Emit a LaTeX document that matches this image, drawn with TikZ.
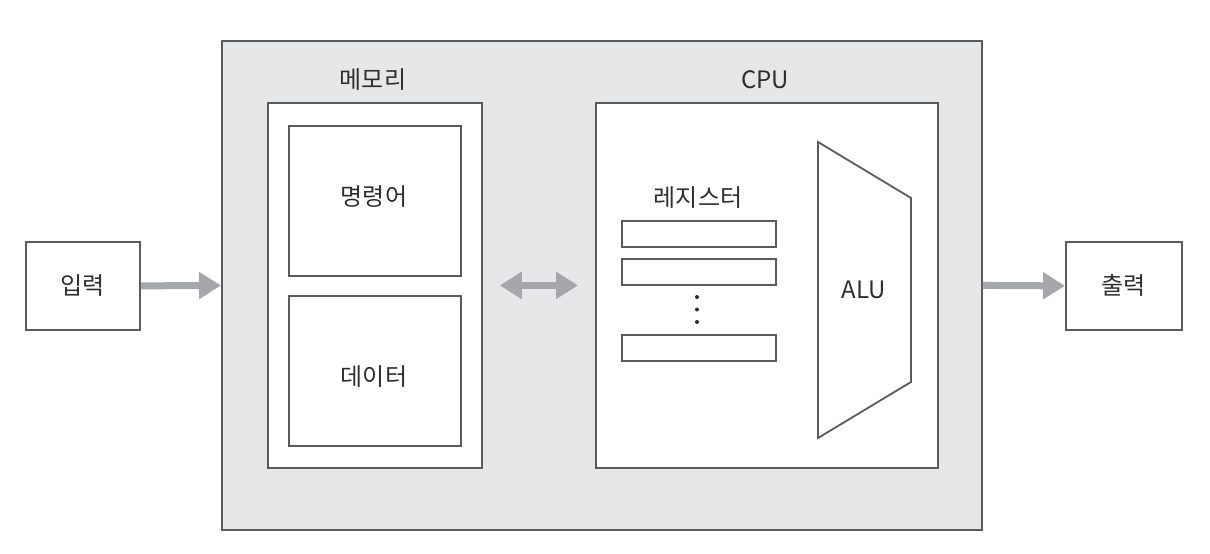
\documentclass[tikz,border=0pt]{standalone}
\usepackage{fontspec}
\setmainfont{Noto Sans CJK KR}
\usetikzlibrary{arrows.meta}
\definecolor{bgray}{HTML}{E6E7E8}
\definecolor{lgray}{HTML}{5A5B5D}
\definecolor{agray}{HTML}{A5A7AA}
\definecolor{tgray}{HTML}{2E2E2E}
\tikzset{
  boxed/.style={draw=lgray, line width=1.8pt, fill=white, inner sep=0pt, text=tgray, font=\fontsize{24}{28}\selectfont},
  lbl/.style={text=tgray, font=\fontsize{24}{28}\selectfont, inner sep=0pt},
  regbox/.style={draw=lgray, line width=1.5pt, fill=white, minimum width=154pt, minimum height=26pt, anchor=north west, inner sep=0pt},
  dotc/.style={fill=tgray, circle, inner sep=0pt, minimum size=4pt},
  flow/.style={draw=agray, line width=7pt, -{Triangle[length=22pt,width=26pt]}},
  flow2/.style={draw=agray, line width=7pt, {Triangle[length=22pt,width=26pt]}-{Triangle[length=22pt,width=26pt]}}
}
\begin{document}
\begin{tikzpicture}[x=1pt,y=-1pt]
\useasboundingbox (0,0) rectangle (1210,554);
% outer
\node[boxed, fill=bgray, minimum width=760pt, minimum height=489pt, anchor=north west] (outer) at (221,40) {};
% input/output
\node[boxed, minimum width=114pt, minimum height=88pt, anchor=north west] (inp) at (25,241) {입력};
\node[boxed, minimum width=116pt, minimum height=88pt, anchor=north west] (outp) at (1065,241) {출력};
% memory
\node[boxed, minimum width=214pt, minimum height=365pt, anchor=north west] (mem) at (267,102) {};
\node[lbl] (memlbl) at (373,80) {메모리};
\node[boxed, minimum width=172pt, minimum height=150pt, anchor=north west] (instr) at (288,125) {};
\node[lbl] (instrlbl) at (374,197) {명령어};
\node[boxed, minimum width=172pt, minimum height=150pt, anchor=north west] (data) at (288,295) {};
\node[lbl] (datalbl) at (374,377) {데이터};
% cpu
\node[boxed, minimum width=342pt, minimum height=365pt, anchor=north west] (cpu) at (595,102) {};
\node[lbl] (cpulbl) at (765,80) {CPU};
\node[lbl] (reglbl) at (698,198) {레지스터};
\node[regbox] (r1) at (621,220) {};
\node[regbox] (r2) at (621,258) {};
\node[regbox] (r3) at (621,334) {};
\node[dotc] (d1) at (697,297) {};
\node[dotc] (d2) at (697,309.5) {};
\node[dotc] (d3) at (697,322) {};
% ALU
\draw[draw=lgray, line width=1.8pt, fill=white, line join=miter] (818,142) coordinate (a1) -- (911,198) coordinate (a2) -- (911,382) coordinate (a3) -- (818,438) coordinate (a4) -- cycle;
\node[lbl] (alu) at (864,290) {ALU};
% arrows
\draw[flow] (inp.east) -- (outer.west);
\draw[flow] (outer.east) -- (outp.west);
\draw[flow2, shorten <=17pt, shorten >=17pt] (mem.east) -- (cpu.west);
\end{tikzpicture}
\end{document}
